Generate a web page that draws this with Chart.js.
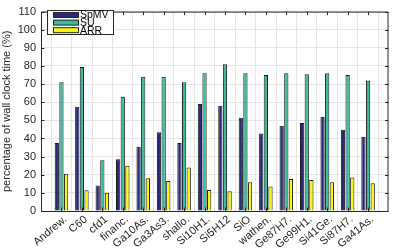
<!DOCTYPE html>
<html>
<head>
<meta charset="utf-8">
<script src="https://cdn.jsdelivr.net/npm/chart.js@4.4.0/dist/chart.umd.min.js"></script>
<style>
  html, body { margin: 0; padding: 0; background: #fff; }
</style>
</head>
<body>
<canvas id="chart" width="399" height="249"></canvas>
<script>
// matrices on the x axis
var matrices = ['Andrew.', 'C60', 'cfd1', 'financ.', 'Ga10As.', 'Ga3As3.', 'shallo.', 'Si10H1.',
                'Si5H12', 'SiO', 'wathen.', 'Ge87H7.', 'Ge99H1.', 'Si41Ge.', 'Si87H7.', 'Ga41As.'];

// share of wall clock time (%)
var spmv = [37.5, 57.5, 14, 28.5, 35.5, 43.5, 37.5, 59, 58, 51.5, 42.7, 47, 48.5, 52, 44.8, 41];
var su   = [71, 79.5, 28, 63, 74, 74, 71, 76, 81, 76, 75, 76, 75.5, 76, 75, 72];
var arr  = [20.5, 11.5, 10, 25, 18, 16.5, 24, 11.6, 10.9, 15.8, 13.5, 17.6, 17.1, 15.8, 18.5, 15.3];

var yTicks = [0, 10, 20, 30, 40, 50, 60, 70, 80, 90, 100, 110];

// matlab keeps one empty slot on each side (xlim 0..17)
function pad(a) { return [null].concat(a, [null]); }
var labels = [''].concat(matrices, ['']);

var axisColor = '#262626';
var fontFamily = '"Liberation Sans", Arial, sans-serif';

var boxPlugin = {
    id: 'box',
    afterDraw: function(chart) {
        var ctx = chart.ctx, a = chart.chartArea;
        var xs = chart.scales.x, ys = chart.scales.y;
        ctx.save();
        ctx.strokeStyle = axisColor;
        ctx.lineWidth = 1;
        ctx.beginPath();
        ctx.rect(a.left + 0.5, a.top + 0.5, a.right - a.left - 1, a.bottom - a.top);
        ctx.stroke();
        // inward ticks
        ctx.beginPath();
        yTicks.forEach(function(v) {
            var y = Math.round(ys.getPixelForValue(v)) + 0.5;
            ctx.moveTo(a.left, y); ctx.lineTo(a.left + 3.5, y);
            ctx.moveTo(a.right, y); ctx.lineTo(a.right - 3.5, y);
        });
        for (var i = 1; i <= matrices.length; i++) {
            var x = Math.round(xs.getPixelForValue(i)) + 0.5;
            ctx.moveTo(x, a.bottom); ctx.lineTo(x, a.bottom - 3.5);
            ctx.moveTo(x, a.top); ctx.lineTo(x, a.top + 3.5);
        }
        ctx.stroke();

        // legend box
        var lx = 47.5, ly = 10.5, lw = 66, lh = 24;
        ctx.fillStyle = '#fff';
        ctx.fillRect(lx, ly, lw, lh);
        ctx.strokeRect(lx, ly, lw, lh);
        ctx.font = '10.5px ' + fontFamily;
        ctx.textBaseline = 'middle';
        chart.data.datasets.forEach(function(ds, k) {
            var cy = 15 + k * 7.6;
            ctx.fillStyle = ds.backgroundColor;
            ctx.fillRect(53.5, cy - 2.5, 25, 5);
            ctx.strokeStyle = '#222';
            ctx.strokeRect(53.5, cy - 2.5, 25, 5);
            ctx.fillStyle = '#000';
            ctx.fillText(ds.label, 80, cy + 0.5);
        });
        ctx.restore();
    }
};

new Chart(document.getElementById('chart'), {
    type: 'bar',
    data: {
        labels: labels,
        datasets: [
            { label: 'SpMV', data: pad(spmv), backgroundColor: '#2c2a80', borderColor: '#1a1a1a', borderWidth: 1 },
            { label: 'SU', data: pad(su), backgroundColor: '#3bbb9d', borderColor: '#1a1a1a', borderWidth: 1 },
            { label: 'ARR', data: pad(arr), backgroundColor: '#f8f80e', borderColor: '#1a1a1a', borderWidth: 1 }
        ]
    },
    options: {
        responsive: false,
        animation: false,
        layout: { padding: { top: 4, right: 1, left: 0, bottom: 0 } },
        plugins: { legend: { display: false }, tooltip: { enabled: false } },
        datasets: { bar: { categoryPercentage: 0.68, barPercentage: 0.92 } },
        scales: {
            x: {
                offset: false,
                grid: { color: '#e6e6e6', drawTicks: false },
                border: { display: false },
                ticks: {
                    autoSkip: false, maxRotation: 40, minRotation: 40,
                    color: axisColor, padding: 2, labelOffset: 4,
                    font: { family: fontFamily, size: 11 }
                },
                afterFit: function(s) { s.height = 38; }
            },
            y: {
                min: 0, max: 110,
                grid: { color: '#e6e6e6', drawTicks: false },
                border: { display: false },
                ticks: {
                    stepSize: 10, color: axisColor, padding: 5,
                    font: { family: fontFamily, size: 11 }
                },
                title: {
                    display: true, text: 'percentage of wall clock time (%)', color: axisColor,
                    padding: 0,
                    font: { family: fontFamily, size: 11 }
                },
                afterFit: function(s) { s.width = 41; }
            }
        }
    },
    plugins: [boxPlugin]
});
</script>
</body>
</html>
